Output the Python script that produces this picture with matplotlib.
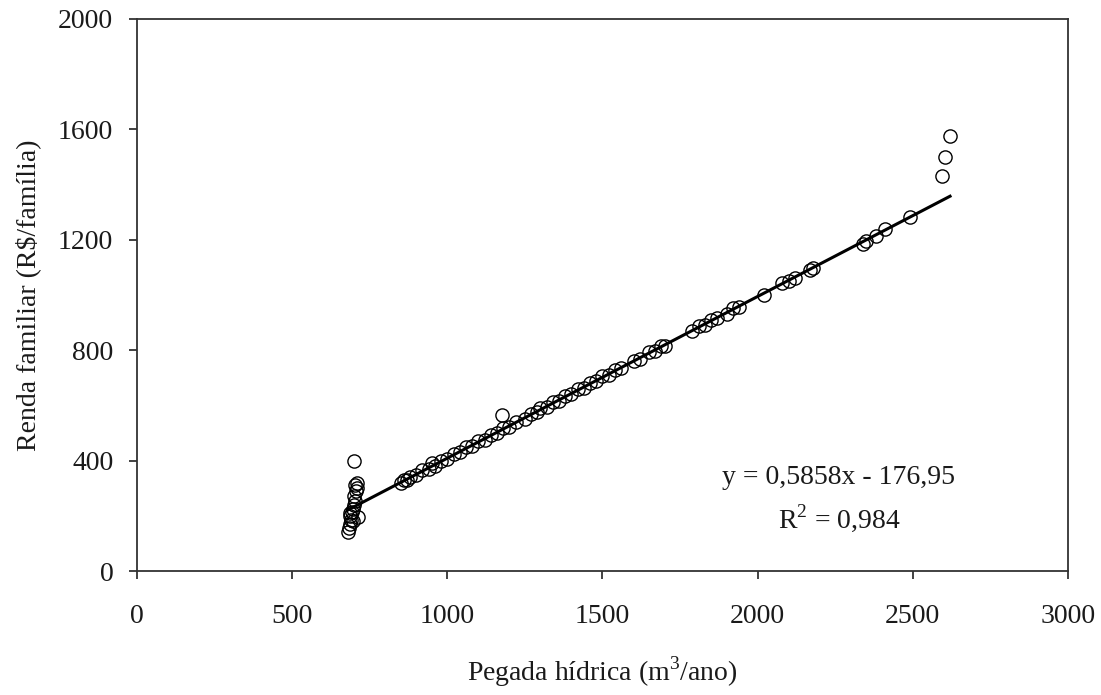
import matplotlib.pyplot as plt
import numpy as np

plt.rcParams["font.family"] = ["Liberation Serif", "DejaVu Serif"]
plt.rcParams["mathtext.fontset"] = "custom"
plt.rcParams["mathtext.rm"] = "Liberation Serif"

# scatter data (pegada hidrica, renda familiar)
cluster_x = [680, 683, 686, 690, 688, 693, 697, 700, 703, 698, 705, 708, 702, 710, 712, 695, 685, 698]
cluster_y = [140, 155, 170, 185, 200, 215, 225, 240, 255, 270, 290, 300, 310, 320, 195, 180, 210, 400]

line_x = [850, 860, 870, 880, 900, 920, 940, 950, 960, 980, 1000, 1020, 1040, 1060, 1080,
          1100, 1120, 1140, 1160, 1175, 1180, 1200, 1220, 1250, 1270, 1290, 1300, 1320, 1340,
          1360, 1380, 1400, 1420, 1440, 1460, 1480, 1500, 1520, 1540, 1560, 1600, 1620, 1650,
          1670, 1690, 1700, 1790, 1810, 1830, 1850, 1870, 1900, 1920, 1940, 2020, 2080, 2100,
          2120, 2170, 2180, 2340, 2350, 2380, 2410, 2490]
line_y = [320, 330, 328, 342, 348, 365, 370, 390, 382, 400, 405, 425, 430, 448, 452,
          470, 476, 494, 500, 565, 518, 522, 540, 552, 570, 576, 590, 593, 612,
          616, 635, 640, 658, 663, 682, 687, 705, 710, 730, 734, 762, 768, 794,
          798, 816, 815, 868, 887, 893, 910, 915, 932, 952, 957, 1000, 1045, 1050,
          1062, 1090, 1098, 1185, 1195, 1212, 1238, 1282]

top_x = [2595, 2605, 2620]
top_y = [1430, 1500, 1575]

# trend line from the printed equation
slope = 0.5858
intercept = -176.95
fit_range = [680, 2620]

x = np.array(cluster_x + line_x + top_x)
y = np.array(cluster_y + line_y + top_y)

fig = plt.figure(figsize=(11.01, 6.95), dpi=100)
ax = fig.add_axes([0.1244, 0.1784, 0.8456, 0.7943])

ax.plot(x, y, "o", mfc="none", mec="black", ms=9.5, mew=1.0)
fx = np.array(fit_range)
ax.plot(fx, slope * fx + intercept, color="black", lw=2.2)

ax.set_xlim(0, 3000)
ax.set_ylim(0, 2000)
ax.set_xticks([0, 500, 1000, 1500, 2000, 2500, 3000])
ax.set_yticks([0, 400, 800, 1200, 1600, 2000])

for s in ax.spines.values():
    s.set_color("#333333")
    s.set_linewidth(1.3)
ax.tick_params(direction="out", length=6, width=1.3, color="#333333",
               labelsize=20, labelcolor="#1a1a1a")
ax.tick_params(axis="x", pad=18)
ax.tick_params(axis="y", pad=11)

ax.set_xlabel("Pegada hídrica (m$^3$/ano)", fontsize=20, color="#1a1a1a", labelpad=18)
ax.set_ylabel("Renda familiar (R\\$/família)", fontsize=20, color="#1a1a1a", labelpad=12)

ax.text(0.754, 0.170, "y = 0,5858x - 176,95", transform=ax.transAxes,
        ha="center", va="center", fontsize=20, color="#1a1a1a")
ax.text(0.754, 0.095, "R$^2$ = 0,984", transform=ax.transAxes,
        ha="center", va="center", fontsize=20, color="#1a1a1a")

fig.savefig("out.png", dpi=100)
